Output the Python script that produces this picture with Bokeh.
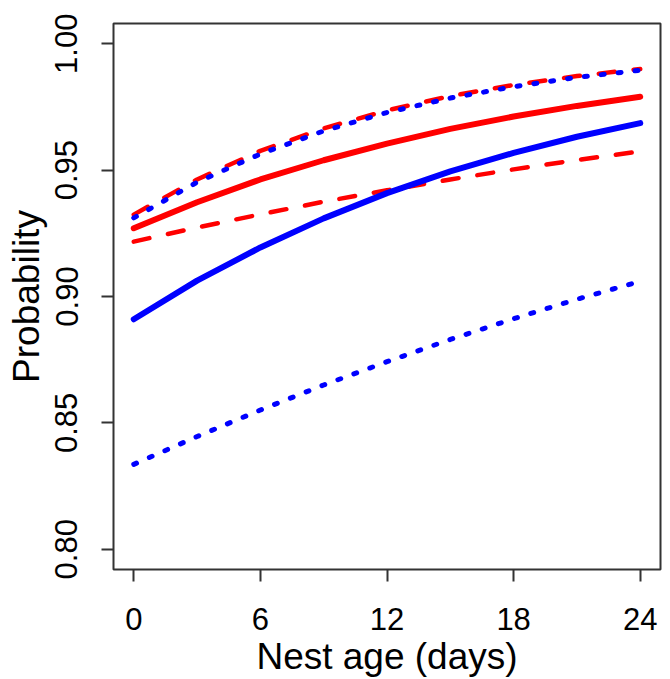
from bokeh.plotting import figure
from bokeh.models import FixedTicker, Range1d, NumeralTickFormatter
from bokeh.embed import file_html
from bokeh.resources import INLINE

# Nest age (days)
days = [0, 3, 6, 9, 12, 15, 18, 21, 24]

# Red curves
red_solid = [0.927, 0.9373, 0.9463, 0.9539, 0.9605, 0.9663, 0.9712, 0.9754, 0.979]
red_dash_low = [0.9217, 0.9273, 0.9325, 0.9375, 0.942, 0.9463, 0.9503, 0.954, 0.9574]
red_dash_high = [0.9324, 0.9463, 0.9576, 0.9665, 0.9736, 0.9793, 0.9837, 0.9872, 0.990]

# Blue curves
blue_solid = [0.891, 0.9063, 0.9194, 0.9309, 0.9409, 0.9495, 0.9568, 0.9632, 0.9686]
blue_dot_high = [0.9311, 0.9452, 0.9564, 0.9655, 0.9728, 0.9785, 0.983, 0.9867, 0.9895]
blue_dot_low = [0.8336, 0.8446, 0.8551, 0.865, 0.8742, 0.883, 0.8912, 0.8989, 0.906]

x_ticks = [0, 6, 12, 18, 24]
y_ticks = [0.80, 0.85, 0.90, 0.95, 1.00]

FONT = "Liberation Sans"

p = figure(width=670, height=679, output_backend="svg", toolbar_location=None,
           x_range=Range1d(-0.96, 24.96), y_range=Range1d(0.792, 1.008),
           min_border_left=113, min_border_right=10, min_border_top=23,
           min_border_bottom=108)
p.grid.visible = False
p.outline_line_color = "#333333"
p.outline_line_width = 2
p.background_fill_color = "white"
p.border_fill_color = "white"

for ax in (p.xaxis[0], p.yaxis[0]):
    ax.axis_line_color = None
    ax.major_tick_in = 0
    ax.major_tick_out = 12
    ax.major_tick_line_width = 2
    ax.major_tick_line_color = "#333333"
    ax.minor_tick_line_color = None
    ax.major_label_text_font = FONT
    ax.major_label_text_font_size = "31px"
    ax.major_label_text_color = "black"
    ax.major_label_text_line_height = 1.0
    ax.axis_label_text_font = FONT
    ax.axis_label_text_font_size = "37px"
    ax.axis_label_text_font_style = "normal"
    ax.axis_label_text_color = "black"
    ax.axis_label_text_line_height = 1.0

p.xaxis.ticker = FixedTicker(ticks=x_ticks)
p.yaxis.ticker = FixedTicker(ticks=y_ticks)
p.yaxis.formatter = NumeralTickFormatter(format="0.00")
p.yaxis.major_label_orientation = "vertical"
p.xaxis.axis_label = "Nest age (days)"
p.yaxis.axis_label = "Probability"
p.xaxis.major_label_standoff = 26
p.xaxis.axis_label_standoff = 3
p.yaxis.major_label_standoff = 24
p.yaxis.axis_label_standoff = 6

RED = "#FF0000"
BLUE = "#0000FF"

p.line(days, red_dash_low, line_color=RED, line_width=4.5, line_dash="16 19", line_cap="round")
p.line(days, red_dash_high, line_color=RED, line_width=4.5, line_dash="16 19", line_cap="round")
p.line(days, red_solid, line_color=RED, line_width=6, line_cap="round")
p.line(days, blue_solid, line_color=BLUE, line_width=6, line_cap="round")
p.line(days, blue_dot_high, line_color=BLUE, line_width=5, line_dash="3 14", line_cap="round")
p.line(days, blue_dot_low, line_color=BLUE, line_width=5, line_dash="3 14", line_cap="round")

open("out.html", "w").write(file_html(p, INLINE))
